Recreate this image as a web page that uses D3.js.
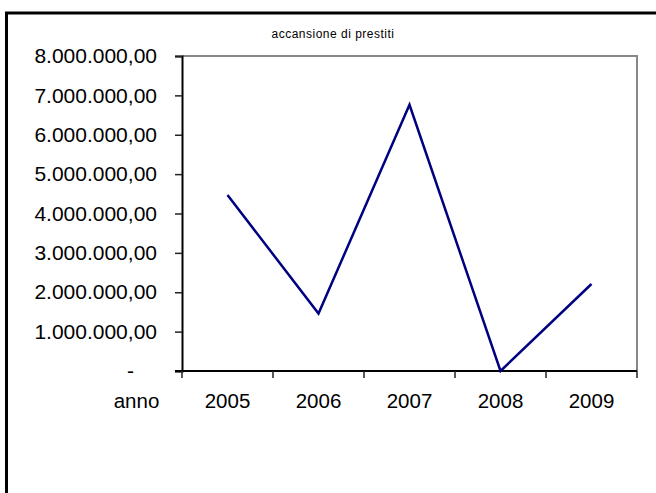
<!DOCTYPE html>
<html><head><meta charset="utf-8">
<script src="https://cdn.jsdelivr.net/npm/d3@7"></script>
<style>html,body{margin:0;padding:0;background:#fff}svg{display:block}</style>
</head><body>
<svg id="c" width="656" height="493"></svg>
<script>
const title = "accansione di prestiti";
const categoryHeader = "anno";
const years = ["2005", "2006", "2007", "2008", "2009"];
const values = [4470000, 1460000, 6760000, 0, 2210000];
const yTicks = [0, 1000000, 2000000, 3000000, 4000000, 5000000, 6000000, 7000000, 8000000];

const svg = d3.select("#c");
const font = "'Liberation Sans', Arial, sans-serif";
const m = {left: 182, right: 637, top: 56, bottom: 371};

// outer border (top and left visible)
svg.append("line").attr("x1", 5).attr("x2", 656).attr("y1", 13).attr("y2", 13)
  .attr("stroke", "#000").attr("stroke-width", 3);
svg.append("line").attr("x1", 6.5).attr("x2", 6.5).attr("y1", 12).attr("y2", 493)
  .attr("stroke", "#000").attr("stroke-width", 3);

const x = d3.scaleBand().domain(years).range([m.left, m.right]).padding(0);
const y = d3.scaleLinear().domain([0, 8000000]).range([m.bottom, m.top]);

// plot area border (top & right gray)
svg.append("path")
  .attr("d", `M${m.left},${m.top}H${m.right}V${m.bottom}`)
  .attr("fill", "none").attr("stroke", "#888").attr("stroke-width", 2);

// title
svg.append("text").attr("x", 333).attr("y", 38).attr("text-anchor", "middle")
  .attr("font-family", font).attr("font-size", 12).attr("letter-spacing", 0.5).text(title);

// y axis
const fmt = v => v === 0 ? "-" : d3.format(",.2f")(v).replace(/,/g, "#").replace(".", ",").replace(/#/g, ".");
const yAxis = svg.append("g").attr("transform", `translate(${m.left},0)`)
  .call(d3.axisLeft(y).tickValues(yTicks).tickSize(7).tickPadding(18).tickFormat(fmt));
yAxis.select(".domain").attr("stroke", "#000").attr("stroke-width", 2);
yAxis.selectAll(".tick line").attr("stroke", "#222").attr("stroke-width", 1.5);
yAxis.selectAll(".tick text").attr("font-family", font).attr("font-size", 21).attr("fill", "#000")
  .attr("dx", d => d === 0 ? -23 : 0);

// x axis
const xTickPos = years.map(d => x(d)).concat([x.range()[1]]);
const xg = svg.append("g");
xg.append("line").attr("x1", m.left - 7).attr("x2", m.right).attr("y1", m.bottom).attr("y2", m.bottom)
  .attr("stroke", "#000").attr("stroke-width", 2);
xg.selectAll("line.t").data(xTickPos).join("line").attr("class", "t")
  .attr("x1", d => d).attr("x2", d => d).attr("y1", m.bottom).attr("y2", m.bottom + 7)
  .attr("stroke", "#222").attr("stroke-width", 1.5);
xg.selectAll("text.l").data(years).join("text").attr("class", "l")
  .attr("x", d => x(d) + x.bandwidth() / 2).attr("y", 408)
  .attr("text-anchor", "middle").attr("font-family", font).attr("font-size", 20.5).text(d => d);
xg.append("text").attr("x", x(years[0]) - x.bandwidth() / 2).attr("y", 408)
  .attr("text-anchor", "middle").attr("font-family", font).attr("font-size", 20.5).text(categoryHeader);

// line
const line = d3.line().x((d, i) => x(years[i]) + x.bandwidth() / 2).y(d => y(d));
svg.append("path").datum(values).attr("d", line)
  .attr("fill", "none").attr("stroke", "#000080").attr("stroke-width", 2.5)
  .attr("stroke-linejoin", "miter");
</script>
</body></html>
